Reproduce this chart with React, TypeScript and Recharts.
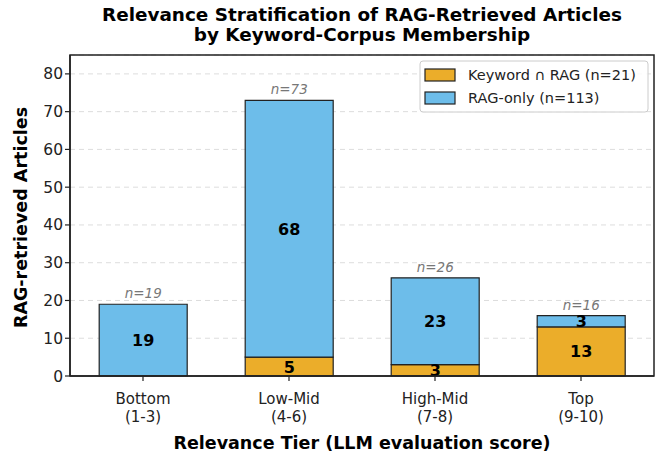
import { BarChart, Bar, XAxis, YAxis, CartesianGrid, LabelList } from 'recharts';

const tiers = ['Bottom', 'Low-Mid', 'High-Mid', 'Top'];
const scoreRanges = ['(1-3)', '(4-6)', '(7-8)', '(9-10)'];
const keywordAndRag = [0, 5, 3, 13];
const ragOnly = [19, 68, 23, 3];
const yTicks = [0, 10, 20, 30, 40, 50, 60, 70, 80];

const ORANGE = '#EBAD2A';
const BLUE = '#6DBDEA';
const EDGE = '#222222';
const FONT = '"DejaVu Sans", sans-serif';

const data = tiers.map((t, i) => ({
  tier: t,
  range: scoreRanges[i],
  keyword: keywordAndRag[i],
  rag: ragOnly[i],
}));

const W = 662;
const H = 458;
const plot = { left: 70, top: 55, right: 654, bottom: 376 };

function TierTick(props: any) {
  const { x, y, payload } = props;
  const i = tiers.indexOf(payload.value);
  return (
    <g transform={`translate(${x},${y})`}>
      <text x={0} y={21} textAnchor="middle" fontFamily={FONT} fontSize={15} fill="#222">
        {payload.value}
      </text>
      <text x={0} y={38.6} textAnchor="middle" fontFamily={FONT} fontSize={15} fill="#222">
        {scoreRanges[i]}
      </text>
    </g>
  );
}

function SegmentLabel(props: any) {
  const { x, y, width, height, value } = props;
  if (!value) return null;
  return (
    <text
      x={x + width / 2}
      y={y + height / 2}
      dy={6}
      textAnchor="middle"
      fontFamily={FONT}
      fontWeight="bold"
      fontSize={16}
      fill="#000"
    >
      {value}
    </text>
  );
}

function TotalLabel(props: any) {
  const { x, y, width, index } = props;
  const total = keywordAndRag[index] + ragOnly[index];
  return (
    <text
      x={x + width / 2}
      y={y - 6}
      textAnchor="middle"
      fontFamily={FONT}
      fontStyle="italic"
      fontSize={13.5}
      fill="#777"
    >
      {`n=${total}`}
    </text>
  );
}

export default function App() {
  const kwTotal = keywordAndRag.reduce((a, b) => a + b, 0);
  const ragTotal = ragOnly.reduce((a, b) => a + b, 0);
  return (
    <div style={{ position: 'fixed', left: 0, top: 0, width: W, height: H, background: '#fff' }}>
      <BarChart
        width={W}
        height={H}
        data={data}
        margin={{ top: plot.top, right: W - plot.right, bottom: 32, left: 0 }}
        barCategoryGap="20%"
      >
        <CartesianGrid vertical={false} stroke="#dddddd" strokeDasharray="5 4" strokeWidth={1} />
        <XAxis
          dataKey="tier"
          height={50}
          tick={<TierTick />}
          tickLine={{ stroke: EDGE, strokeWidth: 1.2 }}
          tickSize={5}
          axisLine={{ stroke: EDGE, strokeWidth: 1.5 }}
          interval={0}
        />
        <YAxis
          width={70}
          domain={[0, 85]}
          ticks={yTicks}
          tick={{ fontFamily: FONT, fontSize: 15.5, fill: '#222' }}
          tickLine={{ stroke: EDGE, strokeWidth: 1.2 }}
          tickSize={5}
          axisLine={{ stroke: EDGE, strokeWidth: 1.5 }}
        />
        <Bar dataKey="keyword" stackId="s" fill={ORANGE} stroke={EDGE} strokeWidth={1.2} isAnimationActive={false}>
          <LabelList dataKey="keyword" content={<SegmentLabel />} />
        </Bar>
        <Bar dataKey="rag" stackId="s" fill={BLUE} stroke={EDGE} strokeWidth={1.2} isAnimationActive={false}>
          <LabelList dataKey="rag" content={<SegmentLabel />} />
          <LabelList dataKey="rag" content={<TotalLabel />} />
        </Bar>
      </BarChart>
      <svg
        width={W}
        height={H}
        style={{ position: 'absolute', left: 0, top: 0, pointerEvents: 'none' }}
      >
        <rect
          x={plot.left}
          y={plot.top}
          width={plot.right - plot.left}
          height={plot.bottom - plot.top}
          fill="none"
          stroke={EDGE}
          strokeWidth={1.5}
        />
        <text x={362} y={21} textAnchor="middle" fontFamily={FONT} fontWeight="bold" fontSize={18.4} fill="#000">
          Relevance Stratification of RAG-Retrieved Articles
        </text>
        <text x={362} y={41} textAnchor="middle" fontFamily={FONT} fontWeight="bold" fontSize={18.4} fill="#000">
          by Keyword-Corpus Membership
        </text>
        <text
          transform={`translate(27,${(plot.top + plot.bottom) / 2 + 2}) rotate(-90)`}
          textAnchor="middle"
          fontFamily={FONT}
          fontWeight="bold"
          fontSize={17.5}
          fill="#000"
        >
          RAG-retrieved Articles
        </text>
        <text
          x={(plot.left + plot.right) / 2}
          y={449}
          textAnchor="middle"
          fontFamily={FONT}
          fontWeight="bold"
          fontSize={17.5}
          fill="#000"
        >
          Relevance Tier (LLM evaluation score)
        </text>
        <g>
          <rect x={420} y={61} width={228} height={51} rx={3} fill="#fff" fillOpacity={0.85} stroke="#cccccc" />
          <rect x={425} y={69} width={30} height={12} fill={ORANGE} stroke={EDGE} strokeWidth={1.2} />
          <text x={468} y={80} fontFamily={FONT} fontSize={14.5} fill="#222">
            {`Keyword ∩ RAG (n=${kwTotal})`}
          </text>
          <rect x={425} y={92} width={30} height={12} fill={BLUE} stroke={EDGE} strokeWidth={1.2} />
          <text x={468} y={103} fontFamily={FONT} fontSize={14.5} fill="#222">
            {`RAG-only (n=${ragTotal})`}
          </text>
        </g>
      </svg>
    </div>
  );
}
